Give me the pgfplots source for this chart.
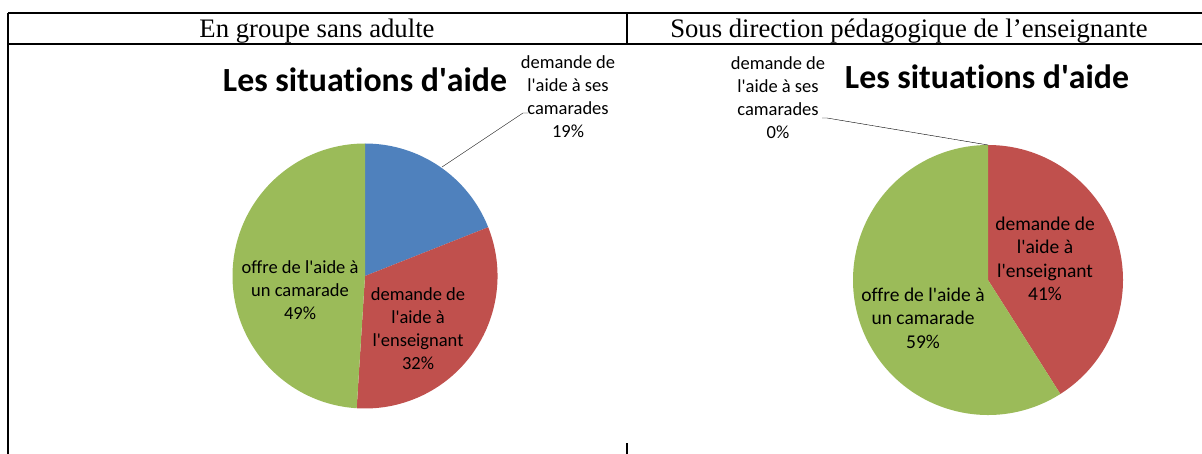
\documentclass[border=0pt]{standalone}
\usepackage{fontspec}
\setmainfont{Carlito}[Ligatures=NoCommon]
\newfontfamily\tnr{Liberation Serif}
\usepackage{pgfplots}
\pgfplotsset{compat=1.18}

\definecolor{xlblue}{HTML}{4F81BD}
\definecolor{xlred}{HTML}{C0504D}
\definecolor{xlgreen}{HTML}{9BBB59}

\newcommand{\q}{\textquotesingle}
% slice: radius, from (%), to (%), colour -- clockwise from 12 o'clock
\newcommand{\pieslice}[4]{%
  \fill[#4] (axis cs:0,0) -- ++({90-3.6*#2}:#1pt)
    arc[start angle={90-3.6*#2}, end angle={90-3.6*#3}, radius=#1pt] -- cycle;}

\pgfplotsset{pie/.style={hide axis, clip=false, anchor=center,
  x=1pt, y=1pt, xmin=-140, xmax=140, ymin=-140, ymax=140}}

\begin{document}
\begin{tikzpicture}[x=1pt,y=1pt]
\useasboundingbox (0,0) rectangle (1202,-454);

% table frame
\draw[line width=2pt] (8,-13) -- (1202,-13);
\draw[line width=2pt] (8,-44) -- (1202,-44);
\draw[line width=2pt] (8,-13) -- (8,-454);
\draw[line width=2pt] (627,-13) -- (627,-44);
\draw[line width=2pt] (627,-443) -- (627,-454);

\node[anchor=base, font=\tnr\fontsize{26.7}{30}\selectfont] at (317,-38) {En groupe sans adulte};
\node[anchor=base, font=\tnr\fontsize{26.7}{30}\selectfont] at (909,-38) {Sous direction pédagogique de l’enseignante};

% left pie: 19 / 32 / 49
\begin{axis}[pie, at={(365,-276)}]
\pieslice{132.5}{0}{19}{xlblue}
\pieslice{132.5}{19}{51}{xlred}
\pieslice{132.5}{51}{100}{xlgreen}
\end{axis}

% right pie: 0 / 41 / 59
\begin{axis}[pie, at={(988,-280)}]
\pieslice{135}{0}{0}{xlblue}
\pieslice{135}{0}{41}{xlred}
\pieslice{135}{41}{100}{xlgreen}
\end{axis}

% titles
\node[font=\bfseries\fontsize{33.8}{38}\selectfont] at (365,-80) {Les situations d\q aide};
\node[font=\bfseries\fontsize{33.8}{38}\selectfont] at (987,-77) {Les situations d\q aide};

% labels
\tikzset{lab/.style={align=center, inner sep=0pt, font=\fontsize{18.5}{23}\selectfont}}
\draw[thin] (442,-167) -- (523,-113) -- (528,-113);
\node[lab] at (568,-97) {demande de\\l\q aide à ses\\camarades\\19\%};
\node[lab] at (300,-290) {offre de l\q aide à\\un camarade\\49\%};
\node[lab] at (418,-329) {demande de\\l\q aide à\\l\q enseignant\\32\%};

\draw[thin] (988,-145) -- (827,-118) -- (822,-118);
\node[lab] at (778,-98) {demande de\\l\q aide à ses\\camarades\\0\%};
\node[lab, font=\fontsize{19.5}{23.5}\selectfont] at (1045,-259) {demande de\\l\q aide à\\l\q enseignant\\41\%};
\node[lab, font=\fontsize{19.5}{23.5}\selectfont] at (923,-318) {offre de l\q aide à\\un camarade\\59\%};
\end{tikzpicture}
\end{document}
